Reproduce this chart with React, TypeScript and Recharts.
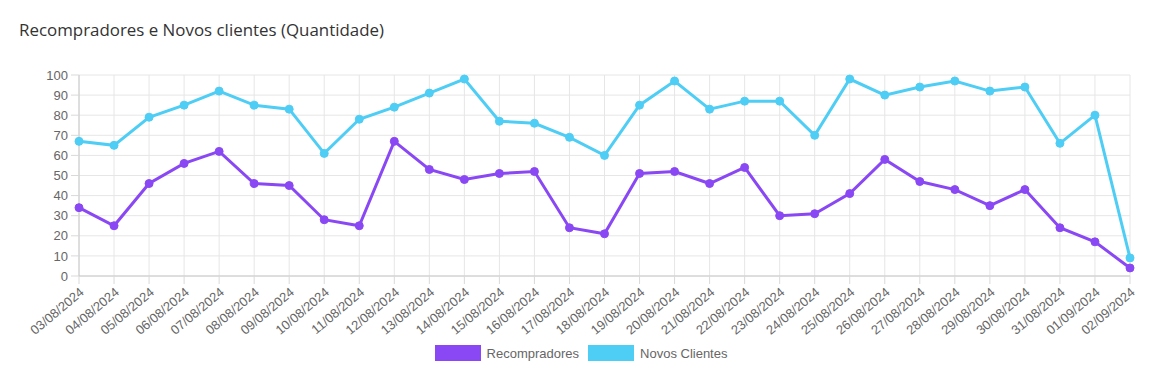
import React from 'react';
import { LineChart, Line, XAxis, YAxis, CartesianGrid } from 'recharts';

const categories = [
  '03/08/2024', '04/08/2024', '05/08/2024', '06/08/2024', '07/08/2024', '08/08/2024',
  '09/08/2024', '10/08/2024', '11/08/2024', '12/08/2024', '13/08/2024', '14/08/2024',
  '15/08/2024', '16/08/2024', '17/08/2024', '18/08/2024', '19/08/2024', '20/08/2024',
  '21/08/2024', '22/08/2024', '23/08/2024', '24/08/2024', '25/08/2024', '26/08/2024',
  '27/08/2024', '28/08/2024', '29/08/2024', '30/08/2024', '31/08/2024', '01/09/2024',
  '02/09/2024',
];

const recompradores = [
  34, 25, 46, 56, 62, 46, 45, 28, 25, 67, 53, 48, 51, 52, 24, 21, 51, 52, 46, 54,
  30, 31, 41, 58, 47, 43, 35, 43, 24, 17, 4,
];

const novosClientes = [
  67, 65, 79, 85, 92, 85, 83, 61, 78, 84, 91, 98, 77, 76, 69, 60, 85, 97, 83, 87,
  87, 70, 98, 90, 94, 97, 92, 94, 66, 80, 9,
];

const yTicks = [0, 10, 20, 30, 40, 50, 60, 70, 80, 90, 100];

const title = 'Recompradores e Novos clientes (Quantidade)';
const seriesNames = ['Recompradores', 'Novos Clientes'];
const colors = ['#8a48f4', '#4ecdf5'];

const data = categories.map((c, i) => ({
  date: c,
  recompradores: recompradores[i],
  novos: novosClientes[i],
}));

const FONT = '"Liberation Sans", Arial, Helvetica, sans-serif';

const XTick = (props: any) => {
  const { x, y, payload } = props;
  return (
    <text
      x={x + 3}
      y={y + 4}
      transform={`rotate(-40, ${x + 3}, ${y + 4})`}
      textAnchor="end"
      fill="#666"
      fontSize={13}
      fontFamily={FONT}
      dy="0.35em"
    >
      {payload.value}
    </text>
  );
};

export default function App() {
  return (
    <div style={{ position: 'absolute', left: 0, top: 0, width: 1162, height: 371, background: '#fff' }}>
      <div
        style={{
          position: 'absolute',
          left: 19,
          top: 18,
          fontFamily: '"Open Sans", sans-serif',
          fontSize: 16.9,
          fontWeight: 500,
          color: '#333',
          whiteSpace: 'nowrap',
        }}
      >
        {title}
      </div>
      <LineChart
        width={1162}
        height={371}
        data={data}
        margin={{ top: 75, right: 32, bottom: 0, left: 0 }}
      >
        <CartesianGrid stroke="#e6e6e6" strokeWidth={1} />
        <XAxis
          dataKey="date"
          interval={0}
          height={95}
          tickSize={8}
          tickLine={{ stroke: '#d9d9d9' }}
          axisLine={{ stroke: '#c8c8c8' }}
          tick={<XTick />}
        />
        <YAxis
          domain={[0, 100]}
          ticks={yTicks}
          width={79}
          tickSize={8}
          tickMargin={3}
          interval={0}
          tickLine={{ stroke: '#d9d9d9' }}
          axisLine={{ stroke: '#c8c8c8' }}
          tick={{ fill: '#666', fontSize: 13, fontFamily: FONT }}
        />
        <Line
          type="linear"
          dataKey="recompradores"
          name={seriesNames[0]}
          stroke={colors[0]}
          strokeWidth={3}
          dot={{ r: 4, fill: colors[0], stroke: colors[0], strokeWidth: 1 }}
          isAnimationActive={false}
        />
        <Line
          type="linear"
          dataKey="novos"
          name={seriesNames[1]}
          stroke={colors[1]}
          strokeWidth={3}
          dot={{ r: 4, fill: colors[1], stroke: colors[1], strokeWidth: 1 }}
          isAnimationActive={false}
        />
      </LineChart>
      <div
        style={{
          position: 'absolute',
          left: 0,
          width: 1162,
          top: 345,
          display: 'flex',
          justifyContent: 'center',
          fontFamily: FONT,
          fontSize: 13,
          color: '#666',
        }}
      >
        {seriesNames.map((n, i) => (
          <div key={n} style={{ display: 'flex', alignItems: 'center', marginRight: i === 0 ? 9 : 0 }}>
            <span
              style={{
                display: 'inline-block',
                width: 46,
                height: 16,
                background: colors[i],
                marginRight: 6,
              }}
            />
            <span>{n}</span>
          </div>
        ))}
      </div>
    </div>
  );
}
